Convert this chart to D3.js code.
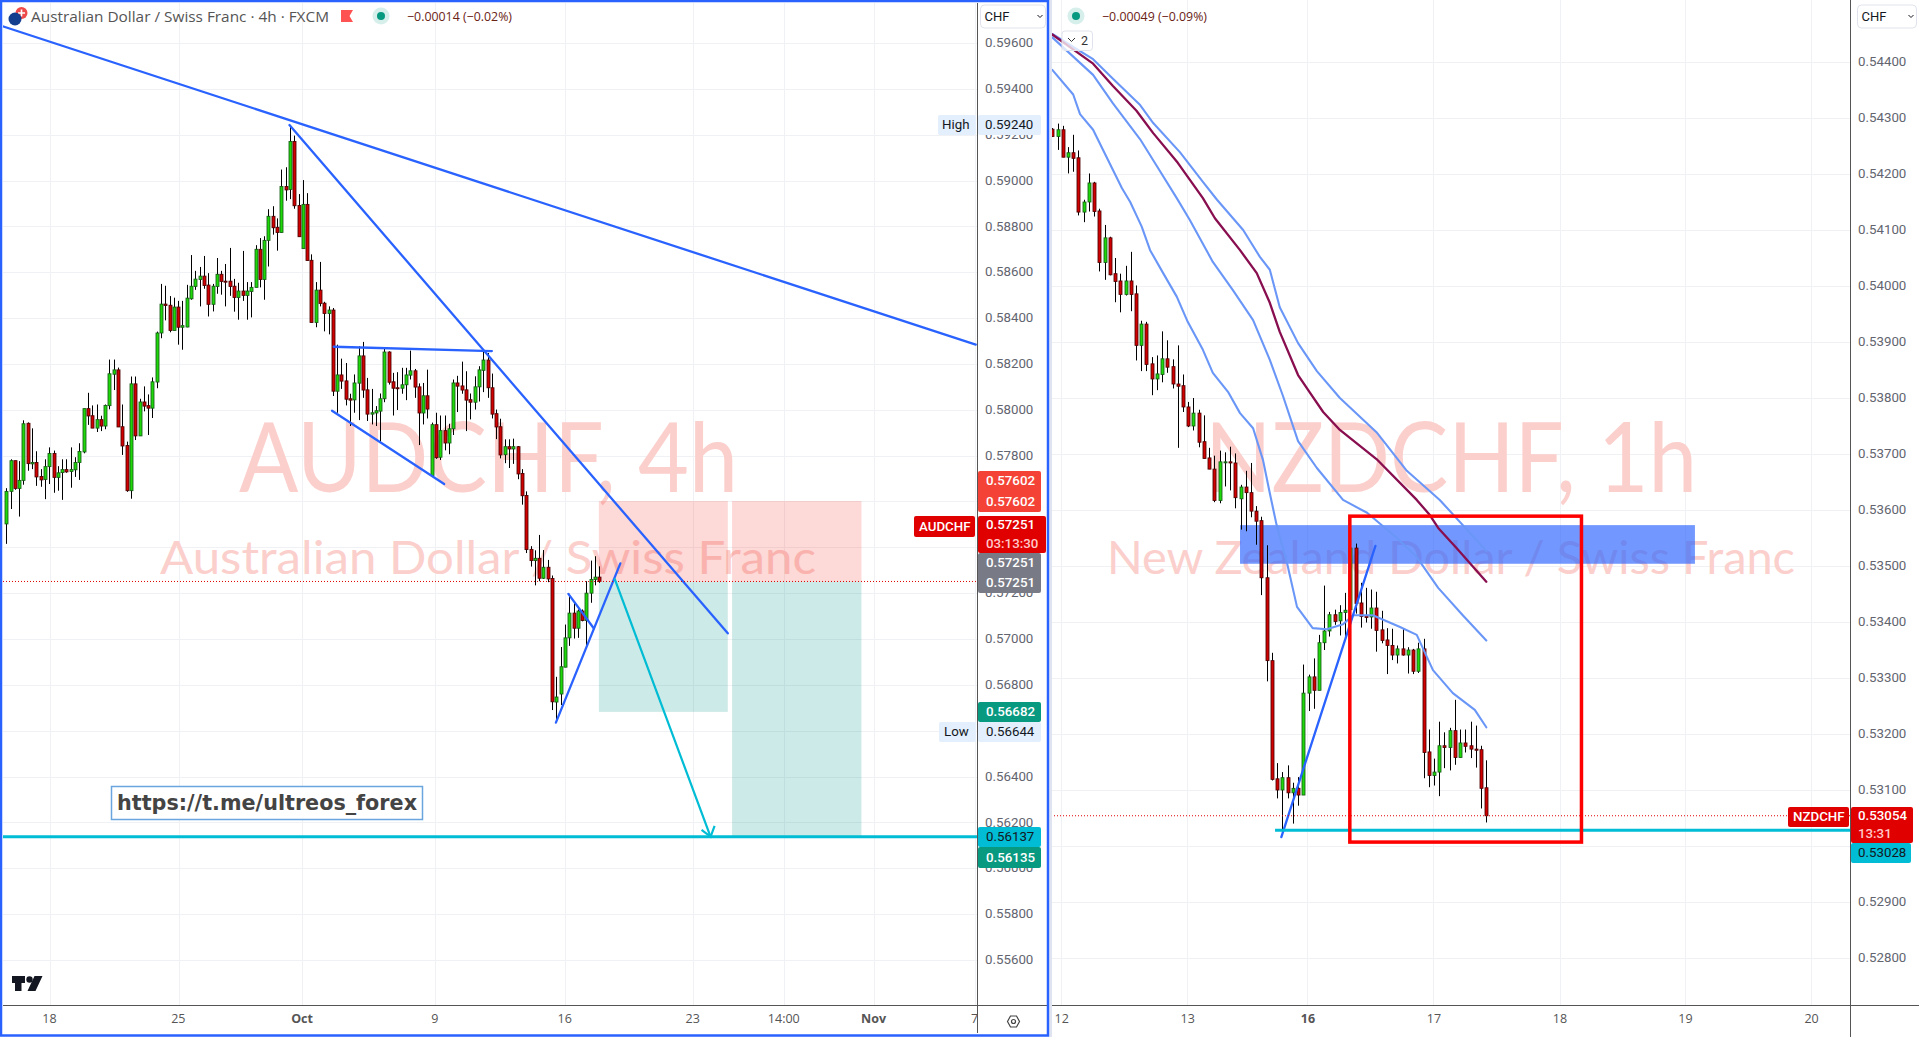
<!DOCTYPE html>
<html><head><meta charset="utf-8">
<script src="https://cdn.jsdelivr.net/npm/d3@7/dist/d3.min.js"></script>
<style>html,body{margin:0;padding:0;background:#fff;overflow:hidden}svg{display:block}text{font-family:Roboto,sans-serif}</style>
</head><body><svg id="c" width="1919" height="1037"></svg>
<script>
// prices are in points (price x 100000)
const audOpen=[57502,57644,57778,57657,57692,57941,57764,57770,57709,57696,57752,57809,57705,57726,57739,57731,57738,57770,57816,58005,57974,57920,57957,57929,58018,58155,58174,57926,57844,57647,58113,57886,58034,58018,58007,58121,58335,58461,58456,58346,58448,58360,58361,58484,58538,58568,58583,58544,58460,58538,58591,58561,58561,58539,58490,58518,58499,58516,58534,58700,58568,58739,58844,58796,58773,58974,58961,59170,58891,58703,58896,58652,58381,58522,58465,58420,58435,58081,58152,58126,58048,58043,58116,58235,58087,57981,57986,57994,58048,58252,58122,58096,58094,58109,58151,58170,58100,57986,58061,57713,57935,57793,57909,57855,57917,58117,58104,58087,58044,58033,58100,58172,58217,58096,57983,57926,57804,57839,57829,57839,57722,57626,57391,57342,57352,57265,57313,57264,56725,56760,56877,57005,57113,57047,57122,57081,57200,57260,57270];
const audClose=[57644,57778,57657,57692,57939,57765,57770,57707,57694,57752,57809,57705,57725,57739,57729,57739,57770,57818,58005,57973,57920,57957,57929,58019,58157,58174,57925,57842,57647,58113,57886,58034,58016,58007,58122,58335,58461,58455,58346,58448,58360,58367,58487,58539,58570,58583,58542,58460,58539,58591,58560,58558,58538,58490,58518,58499,58518,58534,58700,58568,58739,58844,58794,58773,58974,58959,59170,58890,58755,58896,58651,58381,58522,58464,58420,58435,58081,58152,58125,58046,58042,58117,58235,58086,57981,57987,57996,58048,58252,58120,58094,58093,58109,58152,58170,58099,57986,58061,58003,57935,57791,57909,57855,57917,58117,58103,58086,58042,58033,58100,58174,58217,58096,57981,57925,57803,57839,57829,57839,57720,57625,57390,57342,57352,57265,57313,57262,56726,56747,56879,57005,57113,57047,57122,57081,57200,57260,57270,57251];
const audHigh=[57658,57784,57778,57776,57954,57945,57919,57819,57741,57784,57836,57822,57754,57784,57784,57836,57793,57854,58005,58074,58019,58023,57974,58023,58219,58219,58184,58023,57861,58145,58145,58048,58102,58067,58141,58341,58549,58541,58496,58489,58475,58475,58545,58675,58606,58623,58671,58596,58549,58662,58606,58636,58706,58571,58554,58693,58557,58557,58718,58749,58757,58875,58888,58835,59048,59058,59240,59196,58941,59002,58945,58678,58557,58645,58471,58451,58444,58284,58223,58204,58070,58154,58277,58296,58139,58091,58016,58071,58268,58255,58161,58164,58183,58183,58258,58178,58115,58117,58175,57944,57987,57975,57975,57939,58132,58148,58210,58168,58071,58146,58190,58259,58248,58158,58001,57961,57871,57871,57874,57842,57741,57644,57405,57387,57454,57388,57345,57277,56835,56965,57063,57197,57161,57129,57129,57252,57342,57361,57317];
const audLow=[57415,57567,57651,57534,57673,57734,57741,57668,57664,57610,57676,57638,57647,57607,57725,57660,57707,57694,57810,57934,57920,57903,57907,57915,58002,58086,57925,57803,57642,57612,57868,57886,57993,57890,57964,58094,58312,58390,58338,58346,58284,58262,58360,58480,58523,58451,58528,58407,58429,58506,58502,58451,58497,58428,58393,58475,58393,58403,58534,58534,58480,58625,58764,58694,58773,58912,58919,58877,58755,58703,58651,58381,58360,58451,58342,58329,58060,57987,58091,58019,57929,57987,57955,58052,57951,57936,57929,57861,58033,58110,57975,57999,58070,58042,58132,58052,57846,57936,57962,57711,57786,57781,57823,57806,57890,57990,58070,57907,57958,58001,58036,58077,58052,57962,57872,57788,57767,57746,57764,57697,57586,57375,57316,57234,57252,57262,57248,56690,56644,56712,56877,56970,57002,57005,57077,56965,57158,57234,57245];

const nzdOpen=[54280,54267,54279,54230,54238,54229,54132,54150,54184,54134,54042,54086,54022,54009,53985,54009,53986,53894,53932,53861,53834,53842,53870,53856,53825,53822,53784,53750,53773,53722,53693,53673,53617,53685,53686,53684,53620,53641,53631,53598,53581,53479,53331,53120,53100,53122,53095,53103,53091,53273,53302,53278,53363,53384,53413,53402,53417,53422,53532,53434,53411,53409,53425,53386,53368,53358,53341,53352,53341,53350,53312,53352,53168,53126,53132,53179,53176,53206,53158,53184,53179,53173,53172,53104];
const nzdClose=[54267,54279,54230,54238,54228,54132,54150,54184,54133,54042,54086,54020,54008,53985,54009,53985,53894,53932,53860,53834,53843,53870,53855,53825,53821,53784,53750,53773,53721,53692,53673,53617,53686,53686,53684,53622,53641,53631,53598,53580,53479,53331,53119,53100,53122,53095,53103,53091,53273,53302,53278,53363,53384,53413,53401,53417,53421,53532,53433,53410,53408,53425,53385,53367,53358,53341,53352,53341,53350,53312,53352,53167,53126,53132,53179,53176,53206,53158,53184,53178,53173,53171,53103,53054];
const nzdHigh=[54282,54290,54286,54248,54270,54242,54154,54201,54186,54138,54109,54088,54050,54022,54036,54061,54001,53938,53936,53873,53876,53919,53903,53869,53894,53842,53793,53800,53779,53769,53711,53697,53706,53703,53713,53701,53645,53670,53684,53607,53588,53537,53345,53148,53132,53144,53113,53123,53324,53306,53335,53377,53465,53418,53422,53430,53452,53532,53540,53470,53461,53458,53454,53420,53389,53388,53358,53388,53355,53352,53363,53370,53208,53156,53222,53203,53211,53261,53208,53208,53222,53215,53179,53153];
const nzdLow=[54266,54243,54230,54201,54204,54126,54114,54133,54124,54026,54011,54019,53971,53953,53983,53955,53867,53848,53848,53805,53814,53828,53845,53817,53711,53775,53748,53742,53712,53692,53673,53614,53612,53642,53635,53603,53565,53562,53587,53538,53448,53294,53117,53085,53028,53085,53040,53072,53091,53241,53245,53278,53350,53374,53395,53376,53371,53417,53415,53390,53399,53388,53347,53362,53307,53332,53326,53340,53308,53307,53309,53121,53105,53108,53089,53139,53135,53145,53158,53167,53157,53140,53067,53042];

// moving-average style lines read at sample bars: [bar, points]
const maRed=[[0,54449],[7.8,54397],[11.6,54357],[16.1,54313],[19.3,54273],[24,54220],[28.8,54157],[31.1,54121],[35.9,54064],[39.1,54023],[41.6,53970],[43.5,53918],[47,53841],[49.3,53809],[51.8,53775],[55,53743],[62,53691],[69.7,53618],[72.2,53591],[73.8,53568],[77.3,53532],[83,53472]];
const maBlueTop=[[0,54450],[7.8,54405],[11.6,54370],[16.8,54323],[19.3,54291],[24.4,54239],[28.8,54186],[31.5,54154],[36.5,54100],[39.7,54052],[41.6,54029],[43.5,53962],[47,53898],[50.6,53848],[55,53800],[62,53739],[67.8,53670],[74.1,53618],[83,53527]];
const maBlueMid=[[0,54444],[7.8,54377],[11.6,54326],[16.8,54262],[19.6,54220],[23.8,54157],[26.3,54118],[30.7,54043],[34.5,53993],[38.4,53939],[41.6,53868],[44.1,53804],[47,53723],[50.6,53675],[55.6,53618],[60.2,53595],[65.9,53550],[69.7,53516],[73.8,53461],[78.5,53412],[83,53367]];
const maBlueLow=[[0,54386],[4,54342],[5.3,54307],[7.8,54279],[11.6,54207],[13.3,54175],[14.9,54150],[17.1,54106],[18.7,54064],[21.2,54023],[23.8,53981],[25.9,53936],[28.8,53886],[30.7,53845],[33.6,53811],[35.9,53773],[38.4,53746],[40.3,53689],[41.6,53630],[42.9,53573],[44.9,53505],[46.8,53427],[49.8,53389],[52.5,53387],[55.6,53396],[57.5,53412],[61.3,53412],[66.5,53391],[69.7,53377],[72.8,53314],[76.6,53273],[80.8,53243],[83,53212]];

// drawings, as [bar, points] pairs
const audTrendLong=[[-1,59674],[225.6,58284]];
const audTrendPeak=[[65.9,59242],[167.9,57025]];
const audFlagTop=[[76.2,58275],[113,58256]];
const audFlagLow=[[75.8,57996],[101.9,57676]];
const audRise=[[127.9,56635],[142.9,57330]];
const audMiniFlag=[[130.8,57197],[136.7,57047]];
const audArrow=[[141.6,57261],[163.9,56137]];
const audBox1=[137.9,167.9], audBox2=[168.9,199];
const audEntry=57251, audStop=57602, audTarget1=56682, audTarget2=56135, audTarget3=56137;
const nzdBand=[35.9,122.9,53573,53504];
const nzdFrame=[56.9,101.2,53589,53007];
const nzdRise=[[43.8,53016],[61.8,53536]];
const nzdLevel=53028, nzdLast=53054, nzdLevelStart=42.6;

const audPriceTicks=d3.range(55600,59601,200);
const nzdPriceTicks=d3.range(52800,54401,100);
const audBarTicks=[10.1,40.1,68.9,99.8,130,159.8,181,201.9,225.4];
const audBarLabels=["18","25","Oct","9","16","23","14:00","Nov","7"];
const nzdBarTicks=[1.7,25.8,48.8,72.9,97,121,145.1];
const nzdBarLabels=["12","13","16","17","18","19","20"];

const svg=d3.select('#c');
const xA=d3.scaleLinear().domain([0,138]).range([6.3,599.3]);
const yA=d3.scaleLinear().domain([59600,57000]).range([43,639]);
const xN=d3.scaleLinear().domain([0,83]).range([1052.3,1486.3]);
const yN=d3.scaleLinear().domain([54400,53000]).range([62,846]);
const fmt=v=>(v/100000).toFixed(5);
const GRID='#f0f1f4',BLUE='#2962ff',CYAN='#00bcd4';

const defs=svg.append('defs');
defs.append('clipPath').attr('id','ca').append('rect').attr('x',3).attr('y',3).attr('width',974).attr('height',1002);
defs.append('clipPath').attr('id','cn').append('rect').attr('x',1051).attr('y',0).attr('width',799).attr('height',1005);
defs.append('clipPath').attr('id','cb').append('rect').attr('x',3).attr('y',1006).attr('width',974).attr('height',28);

const gA=svg.append('g').attr('clip-path','url(#ca)');
const gN=svg.append('g').attr('clip-path','url(#cn)');

function grid(g,x,y,bars,prices,x0,x1){
  g.selectAll('.gh').data(prices).join('line').attr('class','gh').attr('x1',x0).attr('x2',x1).attr('y1',d=>Math.round(y(d))+.5).attr('y2',d=>Math.round(y(d))+.5).attr('stroke',GRID);
  g.selectAll('.gv').data(bars).join('line').attr('class','gv').attr('y1',0).attr('y2',1005).attr('x1',d=>Math.round(x(d))+.5).attr('x2',d=>Math.round(x(d))+.5).attr('stroke',GRID);
}
grid(gA.append('g'),xA,yA,audBarTicks,audPriceTicks,3,977);
grid(gN.append('g'),xN,yN,nzdBarTicks,nzdPriceTicks,1051,1850);

function watermark(g,txt,x,base,size,len){
  g.append('text').text(txt).attr('x',x).attr('y',base).attr('font-size',size).attr('fill','#fbcfcc')
   .attr('textLength',len).attr('lengthAdjust','spacingAndGlyphs').style('font-family','Lato,sans-serif');
}
watermark(gA,'AUDCHF, 4h',239,492,97,499);
watermark(gA,'Australian Dollar / Swiss Franc',160,574,46,656);
watermark(gN,'NZDCHF, 1h',1205,492,97,492);
watermark(gN,'New Zealand Dollar / Swiss Franc',1107,574,46,688);

function box(g,b,top,bot,fill){
  g.append('rect').attr('x',xA(b[0])).attr('width',xA(b[1])-xA(b[0])).attr('y',yA(top)).attr('height',yA(bot)-yA(top)).attr('fill',fill);
}
box(gA,audBox1,audStop,audEntry,'rgba(244,67,54,.2)');
box(gA,audBox1,audEntry,audTarget1,'rgba(0,150,136,.2)');
box(gA,audBox2,audStop,audEntry,'rgba(244,67,54,.2)');
box(gA,audBox2,audEntry,audTarget2,'rgba(0,150,136,.2)');

gN.append('rect').attr('x',xN(nzdBand[0])).attr('width',xN(nzdBand[1])-xN(nzdBand[0])).attr('y',yN(nzdBand[2])).attr('height',yN(nzdBand[3])-yN(nzdBand[2])).attr('fill','rgba(41,98,255,.66)');

function candles(g,x,y,o,h,l,c){
  const d=o.map((v,i)=>({i,o:v,h:h[i],l:l[i],c:c[i]}));
  const e=g.selectAll('.k').data(d).join('g');
  e.append('line').attr('x1',k=>Math.round(x(k.i))+.5).attr('x2',k=>Math.round(x(k.i))+.5).attr('y1',k=>y(k.h)).attr('y2',k=>y(k.l)).attr('stroke','#000');
  e.append('rect').attr('x',k=>Math.round(x(k.i))-1).attr('width',3)
    .attr('y',k=>y(Math.max(k.o,k.c))).attr('height',k=>Math.max(1,Math.abs(y(k.o)-y(k.c))))
    .attr('fill',k=>k.c>=k.o?'#1fd80a':'#d00000').attr('stroke',k=>k.c>=k.o?'#175c17':'#4d0000').attr('stroke-width',.85);
}
candles(gA.append('g'),xA,yA,audOpen,audHigh,audLow,audClose);
candles(gN.append('g'),xN,yN,nzdOpen,nzdHigh,nzdLow,nzdClose);

function seg(g,x,y,pts,col,w){
  g.append('path').attr('d',d3.line().x(p=>x(p[0])).y(p=>y(p[1]))(pts)).attr('fill','none').attr('stroke',col).attr('stroke-width',w).attr('stroke-linecap','round').attr('stroke-linejoin','round');
}
[audTrendLong,audTrendPeak,audFlagTop,audFlagLow,audRise,audMiniFlag].forEach(p=>seg(gA,xA,yA,p,BLUE,2.3));
gA.append('line').attr('x1',3).attr('x2',977).attr('y1',yA(audEntry)).attr('y2',yA(audEntry)).attr('stroke','#e00000').attr('stroke-dasharray','1 2');
gA.append('line').attr('x1',3).attr('x2',977).attr('y1',yA(audTarget3)).attr('y2',yA(audTarget3)).attr('stroke',CYAN).attr('stroke-width',3);
seg(gA,xA,yA,audArrow,CYAN,2.2);
{ const tx=xA(audArrow[1][0]),ty=yA(audArrow[1][1]);
  gA.append('path').attr('d',`M${tx-9} ${ty-7}L${tx} ${ty}L${tx+4} ${ty-11}`).attr('fill','none').attr('stroke',CYAN).attr('stroke-width',2.2);
}
gA.append('rect').attr('x',111.5).attr('y',786.5).attr('width',311).attr('height',33).attr('fill','#fff').attr('stroke','#6aa6dd').attr('stroke-width',1.5);
gA.append('text').text('https://t.me/ultreos_forex').attr('x',117).attr('y',810).attr('font-size',21).attr('font-weight',700).attr('fill','#444')
  .attr('textLength',300).attr('lengthAdjust','spacingAndGlyphs').style('font-family','"DejaVu Sans",sans-serif');
gA.append('path').attr('d','M12 976h13v7h-3.5v8h-6.5v-8h-3zM34.5 976h8l-7 15h-8z').attr('fill','#131722');
gA.append('circle').attr('cx',29.5).attr('cy',979.5).attr('r',3.2).attr('fill','#131722');

[maBlueLow,maBlueMid,maBlueTop].forEach(a=>seg(gN,xN,yN,a,'#6a97f7',2.1));
seg(gN,xN,yN,maRed,'#880e4f',2.3);
seg(gN,xN,yN,nzdRise,BLUE,2.3);
gN.append('line').attr('x1',1051).attr('x2',1850).attr('y1',yN(nzdLast)).attr('y2',yN(nzdLast)).attr('stroke','#e00000').attr('stroke-dasharray','1 2');
gN.append('line').attr('x1',xN(nzdLevelStart)).attr('x2',1850).attr('y1',yN(nzdLevel)).attr('y2',yN(nzdLevel)).attr('stroke',CYAN).attr('stroke-width',3);
gN.append('rect').attr('x',xN(nzdFrame[0])).attr('width',xN(nzdFrame[1])-xN(nzdFrame[0])).attr('y',yN(nzdFrame[2])).attr('height',yN(nzdFrame[3])-yN(nzdFrame[2])).attr('fill','none').attr('stroke','#ff0000').attr('stroke-width',3.5);

const AX='#555';
svg.append('line').attr('x1',977.5).attr('x2',977.5).attr('y1',3).attr('y2',1033).attr('stroke',AX);
svg.append('line').attr('x1',1850.5).attr('x2',1850.5).attr('y1',0).attr('y2',1037).attr('stroke',AX);
svg.append('line').attr('x1',3).attr('x2',1047).attr('y1',1005.5).attr('y2',1005.5).attr('stroke',AX);
svg.append('line').attr('x1',1051).attr('x2',1919).attr('y1',1005.5).attr('y2',1005.5).attr('stroke',AX);

function priceAxis(y,ticks,xPos,pad){
  const g=svg.append('g').attr('transform',`translate(${xPos},-0.5)`).call(d3.axisRight(y).tickValues(ticks).tickFormat(fmt).tickSize(0).tickPadding(pad));
  g.select('.domain').remove();
  g.selectAll('text').attr('font-size',13.3).attr('fill','#62656f').style('font-family','Roboto,sans-serif');
}
priceAxis(yA,audPriceTicks,978,7);
priceAxis(yN,nzdPriceTicks,1851,7);

function timeAxis(parent,x,ticks,labels,dx,bold){
  const a=parent.append('g').attr('transform',`translate(${dx},1005)`).call(d3.axisBottom(x).tickValues(ticks).tickFormat((d,i)=>labels[i]).tickSize(0).tickPadding(9));
  a.select('.domain').remove();
  a.selectAll('text').attr('font-size',12.5).attr('fill','#555').style('font-family','"Open Sans",sans-serif')
   .attr('font-weight',(d,i)=>bold.includes(labels[i])?700:400);
}
timeAxis(svg.append('g').attr('clip-path','url(#cb)'),xA,audBarTicks,audBarLabels,-0.8,['Oct','Nov']);
timeAxis(svg,xN,nzdBarTicks,nzdBarLabels,0,['16']);

function tag(x,y,w,h,fill,txt,col,r,opts){
  opts=opts||{};
  const lines=Array.isArray(txt)?txt:[txt];
  svg.append('rect').attr('x',x).attr('y',y).attr('width',w).attr('height',h).attr('rx',r).attr('fill',fill);
  lines.forEach((t,i)=>{
    svg.append('text').text(t).attr('x',x+(opts.tx||9)).attr('y',y+h/lines.length*(i+.5)+4.2).attr('font-size',13.3).attr('font-weight',opts.w||500)
      .attr('fill',Array.isArray(col)?col[i]:col);
  });
}
tag(938,115,38,20,'#e3effd','High','#131722',2,{tx:4,w:400});
tag(978,115,63,20,'#e3effd',fmt(59240),'#131722',2,{tx:7,w:400});
tag(978,471,63,41,'#f44336',[fmt(audStop),fmt(audStop)],'#fff',2,{tx:8});
tag(914,516,61,21,'#e00000','AUDCHF','#fff',2,{tx:5});
tag(978,516,68,37,'#e00000',[fmt(audEntry),'03:13:30'],['#fff','#ffc9c9'],2,{tx:8});
tag(978,553,63,40,'#787b86',[fmt(audEntry),fmt(audEntry)],'#fff',2,{tx:8});
tag(978,702,63,20,'#089981',fmt(audTarget1),'#fff',2,{tx:8});
tag(939,722,37,20,'#e3effd','Low','#131722',2,{tx:5,w:400});
tag(978,722,63,20,'#e3effd',fmt(56644),'#131722',2,{tx:8,w:400});
tag(978,827,63,20,CYAN,fmt(audTarget3),'#131722',2,{tx:8,w:400});
tag(978,847,63,21,'#089981',fmt(audTarget2),'#fff',2,{tx:8});
tag(1788,807,61,20,'#e00000','NZDCHF','#fff',2,{tx:5});
tag(1851,807,62,36,'#e00000',[fmt(nzdLast),'13:31'],['#fff','#ffc9c9'],2,{tx:7});
tag(1851,843,60,20,CYAN,fmt(nzdLevel),'#131722',2,{tx:7,w:400});

function cur(x,w){
  svg.append('rect').attr('x',x).attr('y',5).attr('width',w).attr('height',23).attr('rx',4).attr('fill','#fff').attr('stroke','#e0e3eb');
  svg.append('text').text('CHF').attr('x',x+4).attr('y',21).attr('font-size',13).attr('fill','#131722');
  svg.append('path').attr('d',`M${x+w-8} 15l2.5 2.5l2.5-2.5`).attr('fill','none').attr('stroke','#131722');
}
cur(980.5,65); cur(1857.5,59);

svg.append('circle').attr('cx',21.5).attr('cy',13).attr('r',6).attr('fill','#ee4a4a');
svg.append('path').attr('d','M18 13h7M21.5 9.5v7').attr('stroke','#fff').attr('stroke-width',1.6);
svg.append('circle').attr('cx',15).attr('cy',19).attr('r',6.5).attr('fill','#143f8e');
svg.append('text').text('Australian Dollar / Swiss Franc · 4h · FXCM').attr('x',31).attr('y',21.5).attr('font-size',14.5).attr('fill','#555')
  .attr('textLength',298).attr('lengthAdjust','spacingAndGlyphs').style('font-family','"Open Sans",sans-serif');
svg.append('path').attr('d','M341 10h12l-3.5 6l3.5 6h-12z').attr('fill','#ff5252');
function dot(cx){svg.append('circle').attr('cx',cx).attr('cy',16).attr('r',8.5).attr('fill','#d6efeb');svg.append('circle').attr('cx',cx).attr('cy',16).attr('r',4).attr('fill','#089981');}
dot(381);dot(1076);
function chg(t,x,w){svg.append('text').text(t).attr('x',x).attr('y',20.5).attr('font-size',12.5).attr('fill','#6b2316').attr('textLength',w).attr('lengthAdjust','spacingAndGlyphs').style('font-family','"Open Sans",sans-serif');}
chg('−0.00014 (−0.02%)',407,105);
chg('−0.00049 (−0.09%)',1102,105);
svg.append('rect').attr('x',1062).attr('y',31).attr('width',30.5).attr('height',19.5).attr('rx',3).attr('fill','rgba(255,255,255,.75)').attr('stroke','#e0e3eb');
svg.append('path').attr('d','M1068 38l3.5 3.5l3.5-3.5').attr('fill','none').attr('stroke','#333');
svg.append('text').text('2').attr('x',1081).attr('y',45).attr('font-size',12.5).attr('fill','#333');

svg.append('path').attr('d','M1007.5 1021.5l3-5.5h6l3 5.5l-3 5.5h-6z').attr('fill','none').attr('stroke','#444').attr('stroke-width',1.2);
svg.append('circle').attr('cx',1013.5).attr('cy',1021.5).attr('r',2).attr('fill','none').attr('stroke','#444').attr('stroke-width',1.2);

svg.append('rect').attr('x',1049.5).attr('y',0).attr('width',2.5).attr('height',1037).attr('fill','#e0e3f0');
svg.append('rect').attr('x',1).attr('y',1).attr('width',1047).attr('height',1034.5).attr('fill','none').attr('stroke',BLUE).attr('stroke-width',2.5);
</script></body></html>
